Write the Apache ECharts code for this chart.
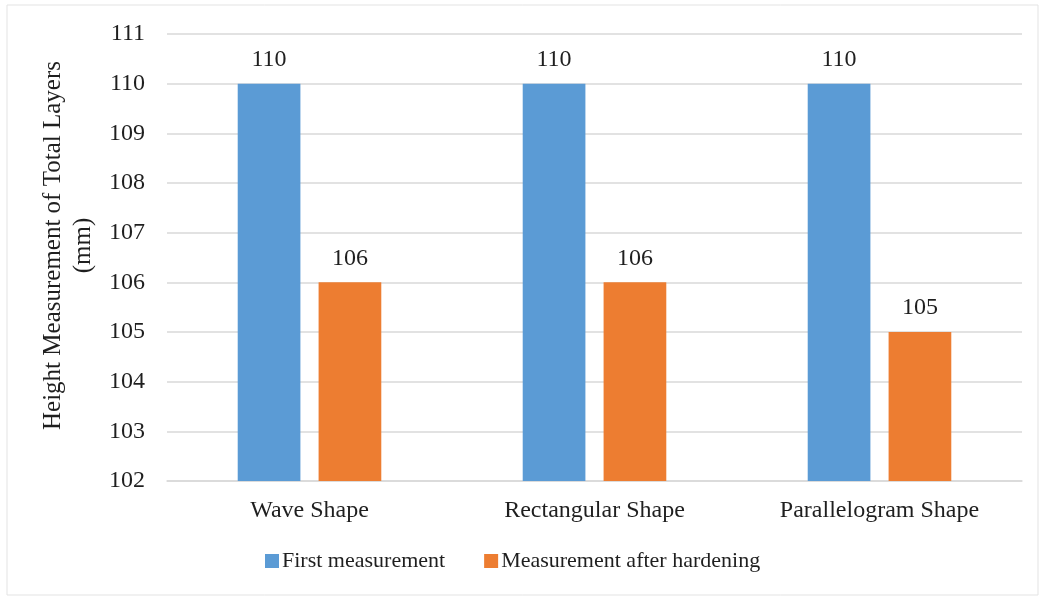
<!DOCTYPE html>
<html>
<head>
<meta charset="utf-8">
<script src="https://cdn.jsdelivr.net/npm/echarts@6/dist/echarts.min.js"></script>
<style>
  html, body { margin: 0; padding: 0; background: #fff; }
  #main { width: 1045px; height: 597px; }
</style>
</head>
<body>
<div id="main"></div>
<script>
var categories = ['Wave Shape', 'Rectangular Shape', 'Parallelogram Shape'];
var firstMeasurement = [110, 110, 110];
var afterHardening = [106, 106, 105];
var seriesNames = ['First measurement', 'Measurement after hardening'];

var chartDom = document.getElementById('main');
var myChart = echarts.init(chartDom);
var font = 'Liberation Serif';
var textColor = '#1f1f1f';

var option = {
  animation: false,
  textStyle: { fontFamily: font },
  graphic: [{
    type: 'rect',
    shape: { x: 7, y: 5, width: 1031, height: 590 },
    style: { fill: 'none', stroke: '#e3e3e3', lineWidth: 1 },
    silent: true
  }],
  legend: {
    data: seriesNames,
    bottom: 20,
    left: 260,
    itemWidth: 14,
    itemHeight: 14,
    itemGap: 39,
    icon: 'rect',
    textStyle: { fontFamily: font, fontSize: 22, color: textColor, padding: [0, 0, 0, -2] }
  },
  grid: { left: 167, right: 23, top: 34, bottom: 116 },
  xAxis: {
    type: 'category',
    data: categories,
    axisLine: { lineStyle: { color: '#d9d9d9', width: 1.5 } },
    axisTick: { show: false },
    axisLabel: { fontFamily: font, fontSize: 24, color: textColor, margin: 18 }
  },
  yAxis: {
    type: 'value',
    min: 102,
    max: 111,
    interval: 1,
    name: 'Height Measurement of Total Layers\n(mm)',
    nameLocation: 'middle',
    nameRotate: 90,
    nameGap: 61,
    nameTextStyle: { fontFamily: font, fontSize: 25, color: textColor, lineHeight: 30, padding: [0, 0, 0, 24] },
    axisLine: { show: false },
    axisTick: { show: false },
    axisLabel: { fontFamily: font, fontSize: 24, color: textColor, margin: 22 },
    splitLine: { lineStyle: { color: '#d9d9d9', width: 1.5 } }
  },
  series: [
    {
      name: seriesNames[0],
      type: 'bar',
      data: firstMeasurement,
      barWidth: '22%',
      barGap: '29%',
      itemStyle: { color: '#5b9bd5' },
      label: { show: true, position: 'top', distance: 12, fontFamily: font, fontSize: 24, color: textColor }
    },
    {
      name: seriesNames[1],
      type: 'bar',
      data: afterHardening,
      barWidth: '22%',
      barGap: '29%',
      itemStyle: { color: '#ed7d31' },
      label: { show: true, position: 'top', distance: 12, fontFamily: font, fontSize: 24, color: textColor }
    }
  ]
};

option && myChart.setOption(option);
</script>
</body>
</html>
